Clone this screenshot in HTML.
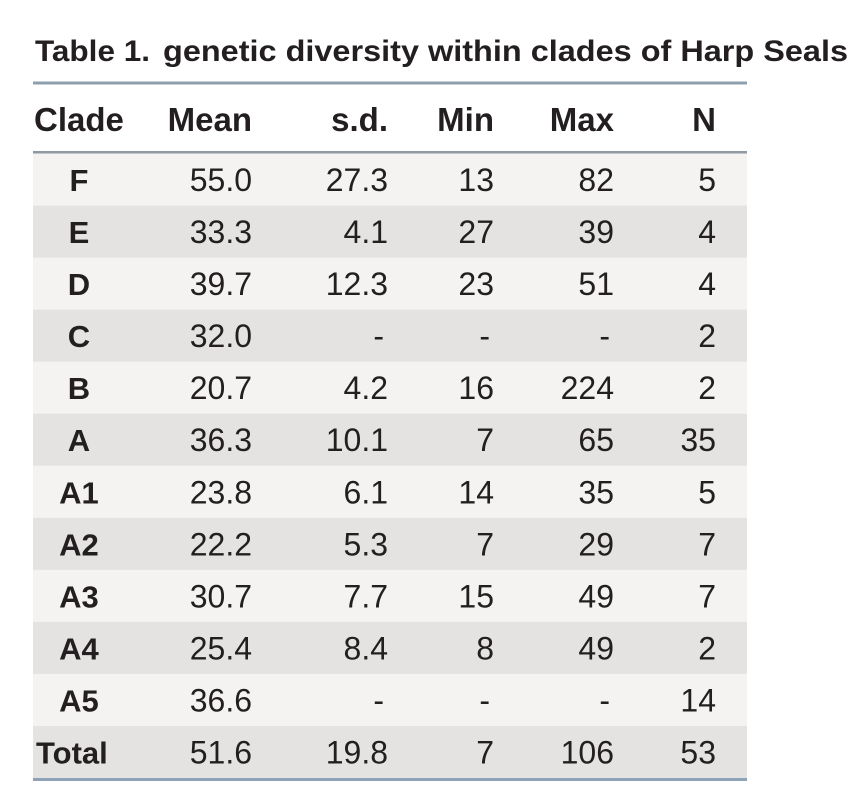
<!DOCTYPE html>
<html><head><meta charset="utf-8"><style>
html,body{margin:0;padding:0;background:#fff;width:860px;height:794px;overflow:hidden}
svg{display:block}
text{font-family:"Liberation Sans",Arial,sans-serif;fill:#231f20}
</style></head><body>
<svg id="t" width="860" height="794" viewBox="0 0 860 794">
<text x="35" y="61" font-size="30" font-weight="bold" textLength="115" lengthAdjust="spacingAndGlyphs">Table 1.</text>
<text x="163" y="61" font-size="30" font-weight="bold" textLength="685" lengthAdjust="spacingAndGlyphs">genetic diversity within clades of Harp Seals</text>
<rect x="33" y="81.5" width="714" height="3" fill="#8fa0ad"/>
<g id="hdr"></g>
<rect x="33" y="151" width="714" height="3" fill="#8f9aa3"/>
<g id="body"></g>
<rect x="33" y="778" width="714" height="3" fill="#8fa3b8"/>
</svg>
<script>
const headers=["Clade","Mean","s.d.","Min","Max","N"];
const clades=["F","E","D","C","B","A","A1","A2","A3","A4","A5","Total"];
const means=["55.0","33.3","39.7","32.0","20.7","36.3","23.8","22.2","30.7","25.4","36.6","51.6"];
const sds=["27.3","4.1","12.3","-","4.2","10.1","6.1","5.3","7.7","8.4","-","19.8"];
const mins=["13","27","23","-","16","7","14","7","15","8","-","7"];
const maxs=["82","39","51","-","224","65","35","29","49","49","-","106"];
const ns=["5","4","4","2","2","35","5","7","7","2","14","53"];
const NS="http://www.w3.org/2000/svg";
const hdrRight=[null,252,388,494,614,716];
const hdrG=document.getElementById('hdr');
headers.forEach((h,i)=>{
  const t=document.createElementNS(NS,'text');
  
  
  t.setAttribute('y',131);t.setAttribute('font-size',33);t.setAttribute('font-weight','bold');
  if(i===0){t.setAttribute('x',34);}else{t.setAttribute('x',hdrRight[i]);t.setAttribute('text-anchor','end');}
  t.textContent=h;hdrG.appendChild(t);
});
const body=document.getElementById('body');
const rowH=(778-153.5)/12;
const cols=[means,sds,mins,maxs,ns];
const colRight=[252,388,494,614,716];
clades.forEach((c,r)=>{
  const y0=153.5+r*rowH;
  const g=document.createElementNS(NS,'g');
  
  
  const bg=document.createElementNS(NS,'rect');
  
  
  bg.setAttribute('x',33);bg.setAttribute('y',y0);bg.setAttribute('width',714);bg.setAttribute('height',rowH+0.5);
  bg.setAttribute('fill',r%2===0?'#f4f3f2':'#e5e3e2');
  g.appendChild(bg);
  const base=y0+rowH/2+11.5;
  const ct=document.createElementNS(NS,'text');
  
  
  ct.setAttribute('x',c==='Total'?36:79);ct.setAttribute('y',base);
  if(c!=='Total')ct.setAttribute('text-anchor','middle');
  ct.setAttribute('font-size',31);ct.setAttribute('font-weight','bold');
  ct.textContent=c;g.appendChild(ct);
  cols.forEach((arr,k)=>{
    const t=document.createElementNS(NS,'text');
    
    
    t.setAttribute('x',arr[r]==='-'?colRight[k]-4:colRight[k]);t.setAttribute('y',base);
    t.setAttribute('text-anchor','end');t.setAttribute('font-size',32);
    t.textContent=arr[r];g.appendChild(t);
  });
  body.appendChild(g);
});
</script>
</body></html>
